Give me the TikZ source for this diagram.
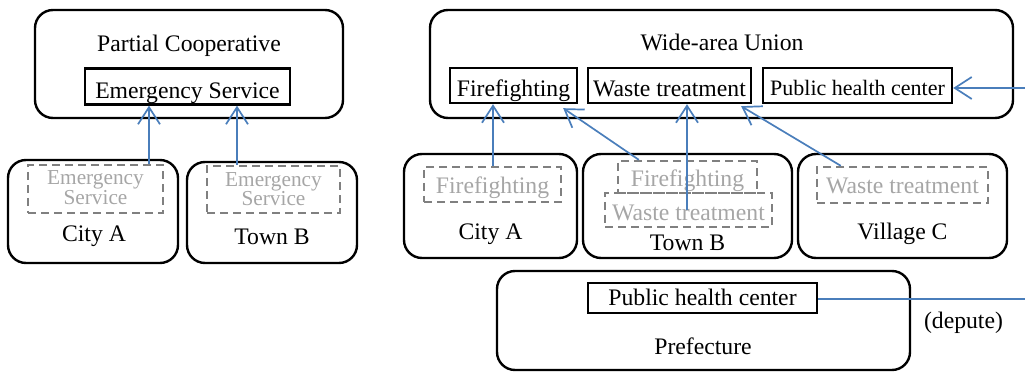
\documentclass[tikz,border=0pt]{standalone}
\usepackage{fontspec}
\setmainfont{Liberation Serif}
\newfontfamily\tnr{Liberation Serif}
\usetikzlibrary{arrows.meta,calc}
\definecolor{arrblue}{HTML}{4A7EBB}
\definecolor{gtext}{HTML}{A6A6A6}
\definecolor{gdash}{HTML}{808080}
\tikzset{
  outer/.style={draw, line width=2.4pt, rounded corners=18pt, inner sep=0pt},
  inner/.style={draw, line width=2.4pt, inner sep=0pt},
  dbox/.style={draw=gdash, line width=2.4pt, dash pattern=on 8pt off 5pt, inner sep=0pt},
  lbl/.style={inner sep=0pt, anchor=base, font=\tnr\fontsize{23.7}{26}\selectfont},
  glbl/.style={lbl, text=gtext},
  arr/.style={draw=arrblue, line width=1.7pt, -{Straight Barb[length=17pt,width=22pt]}},
  bline/.style={draw=arrblue, line width=1.7pt},
}
\begin{document}
\begin{tikzpicture}[x=1pt,y=-1pt]
\useasboundingbox (0,0) rectangle (1025,374);
% ---------- left: partial cooperative ----------
\node[outer, minimum width=308pt, minimum height=108pt] (pc) at (189,64) {};
\node[lbl] (pct) at (189,52) {Partial Cooperative};
\node[inner, minimum width=205pt, minimum height=36pt] (es) at (187.5,86.5) {};
\node[lbl] (est) at (187.5,98.5) {Emergency Service};
\node[outer, minimum width=170pt, minimum height=103pt] (ca) at (93,211.5) {};
\node[dbox, minimum width=135pt, minimum height=48pt] (esa) at (95.5,189) {};
\node[glbl, font=\tnr\fontsize{21.3}{20}\selectfont] (esa1) at (95.5,185) {Emergency};
\node[glbl, font=\tnr\fontsize{21.3}{20}\selectfont] (esa2) at (95.5,205) {Service};
\node[lbl] (cat) at (94,241) {City A};
\node[outer, minimum width=170pt, minimum height=101pt] (tb) at (272,212.5) {};
\node[dbox, minimum width=133pt, minimum height=47pt] (esb) at (273.5,189.5) {};
\node[glbl, font=\tnr\fontsize{21.3}{20}\selectfont] (esb1) at (273.5,186) {Emergency};
\node[glbl, font=\tnr\fontsize{21.3}{20}\selectfont] (esb2) at (273.5,206) {Service};
\node[lbl] (tbt) at (272,244) {Town B};
\draw[arr] (esa.north -| 149,0) -- (es.south -| 149,0);
\draw[arr] (esb.north -| 237,0) -- (es.south -| 237,0);
% ---------- right: wide-area union ----------
\node[outer, minimum width=583pt, minimum height=108pt] (wu) at (721.5,64) {};
\node[lbl] (wut) at (722,51) {Wide-area Union};
\node[inner, minimum width=127pt, minimum height=35pt] (ff) at (513.5,85.5) {};
\node[lbl] (fft) at (513.5,97) {Firefighting};
\node[inner, minimum width=163pt, minimum height=35pt] (wt) at (669.5,85.5) {};
\node[lbl] (wtt) at (669.5,97) {Waste treatment};
\node[inner, minimum width=189pt, minimum height=35pt] (phu) at (857.5,85.5) {};
\node[lbl, font=\tnr\fontsize{22}{24}\selectfont] (phut) at (857.5,96) {Public health center};
% City A
\node[outer, minimum width=173pt, minimum height=104pt] (cr) at (490.5,206) {};
\node[dbox, minimum width=137pt, minimum height=35pt] (ffa) at (492.5,184.5) {};
\node[glbl] (ffat) at (492.5,194) {Firefighting};
\node[lbl] (crt) at (490.5,240) {City A};
% Town B
\node[outer, minimum width=209pt, minimum height=104pt] (tr) at (687.5,206) {};
\node[dbox, minimum width=139pt, minimum height=32pt] (ffb) at (687.5,177) {};
\node[glbl] (ffbt) at (687.5,186) {Firefighting};
\node[dbox, minimum width=167pt, minimum height=34pt] (wtb) at (688.5,210) {};
\node[glbl] (wtbt) at (688.5,220) {Waste treatment};
\node[lbl] (trt) at (687.5,251) {Town B};
% Village C
\node[outer, minimum width=209pt, minimum height=104pt] (vc) at (902.5,206) {};
\node[dbox, minimum width=171pt, minimum height=36pt] (wtc) at (902.5,185) {};
\node[glbl] (wtct) at (902.5,194) {Waste treatment};
\node[lbl] (vct) at (902.5,240) {Village C};
% Prefecture
\node[outer, minimum width=413pt, minimum height=99pt] (pf) at (703.5,320.5) {};
\node[inner, minimum width=229pt, minimum height=30pt] (php) at (702.5,298) {};
\node[lbl] (phpt) at (702.5,305) {Public health center};
\node[lbl] (pft) at (703,354) {Prefecture};
\node[lbl] (dep) at (963.5,328) {(depute)};
% connectors
\draw[arr] (ffa.north -| 493,0) -- (ff.south -| 493,0);
\draw[arr] ($(ffb.north west)+(22,0)$) -- ($(ff.south east)+(-15,4)$);
\draw[arr] (wtb.center -| 687,0) -- (wt.south -| 687,0);
\draw[arr] ($(wtc.north west)+(25,0)$) -- ($(wt.south east)+(-11,2)$);
\coordinate (e1) at (1025,299);
\coordinate (e2) at (1025,88);
\draw[bline] (php.east |- e1) -- (e1);
\draw[arr] (e2) -- (phu.east |- e2);
\end{tikzpicture}
\end{document}
